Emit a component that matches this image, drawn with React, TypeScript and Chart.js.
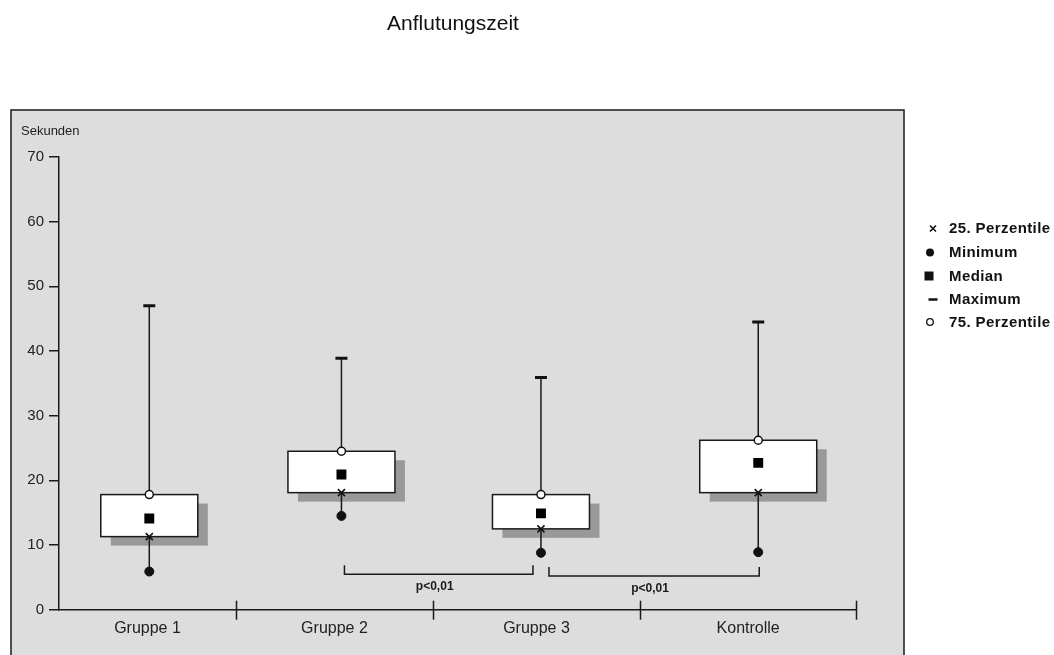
import React, { useEffect, useRef } from 'react';
import { Chart, registerables } from 'chart.js';

Chart.register(...registerables);

// ---------- data ----------
const chartTitle = 'Anflutungszeit';
const yAxisTitle = 'Sekunden';
const categories = ['Gruppe 1', 'Gruppe 2', 'Gruppe 3', 'Kontrolle'];
const minimum = [5.9, 14.5, 8.8, 8.9];
const perc25 = [11.3, 18.1, 12.5, 18.1];
const median = [14.1, 20.9, 14.9, 22.7];
const perc75 = [17.8, 24.5, 17.8, 26.2];
const maximum = [47.0, 38.9, 35.9, 44.5];
const yTicks = [0, 10, 20, 30, 40, 50, 60, 70];
const legendLabels = ['25. Perzentile', 'Minimum', 'Median', 'Maximum', '75. Perzentile'];
const comparisonFrom = [1, 2];
const comparisonTo = [2, 3];
const comparisonLabels = ['p<0,01', 'p<0,01'];
const comparisonLevel = [5.5, 5.2];

// ---------- layout (x-axis positions of the groups and their separators) ----------
const groupX = [0.453, 1.417, 2.418, 3.508];
const groupEdges = [0, 0.888, 1.876, 2.915, 4];
const boxWidthPx = [97, 107, 97, 117];
const bracketStartOffsetPx = [3, 8];
const bracketEndOffsetPx = [-8, 1];

const FONT = '"Liberation Sans", Arial, sans-serif';
const INK = '#1a1a1a';

const pts = (vals: number[]) => vals.map((v, i) => ({ x: groupX[i], y: v }));

const whiskerData: { x: number; y: number | null }[] = [];
groupX.forEach((x, i) => {
  whiskerData.push({ x, y: maximum[i] }, { x, y: perc75[i] }, { x, y: null });
  whiskerData.push({ x, y: perc25[i] }, { x, y: minimum[i] }, { x, y: null });
});

const decorPlugin = {
  id: 'decor',
  beforeDraw(chart: any) {
    const { ctx, width, height } = chart;
    ctx.save();
    ctx.fillStyle = '#ffffff';
    ctx.fillRect(0, 0, width, height);
    ctx.fillStyle = '#dddddd';
    ctx.fillRect(11, 110, 893, 560);
    ctx.strokeStyle = INK;
    ctx.lineWidth = 1.5;
    ctx.strokeRect(11, 110, 893, 560);
    // title
    ctx.fillStyle = '#111';
    ctx.font = `21px ${FONT}`;
    ctx.textAlign = 'center';
    ctx.textBaseline = 'alphabetic';
    ctx.fillText(chartTitle, 453, 30);
    // y axis title
    ctx.font = `13px ${FONT}`;
    ctx.textAlign = 'left';
    ctx.fillStyle = '#222';
    ctx.fillText(yAxisTitle, 21, 135);
    ctx.restore();
  },
  beforeDatasetsDraw(chart: any) {
    const { ctx } = chart;
    const xs = chart.scales.x;
    const ys = chart.scales.y;
    ctx.save();
    groupX.forEach((gx, i) => {
      const cx = xs.getPixelForValue(gx);
      const w = boxWidthPx[i];
      const top = ys.getPixelForValue(perc75[i]);
      const bot = ys.getPixelForValue(perc25[i]);
      ctx.fillStyle = '#999999';
      ctx.fillRect(cx - w / 2 + 10, top + 9, w, bot - top);
    });
    groupX.forEach((gx, i) => {
      const cx = xs.getPixelForValue(gx);
      const w = boxWidthPx[i];
      const top = ys.getPixelForValue(perc75[i]);
      const bot = ys.getPixelForValue(perc25[i]);
      ctx.fillStyle = '#ffffff';
      ctx.fillRect(cx - w / 2, top, w, bot - top);
      ctx.strokeStyle = INK;
      ctx.lineWidth = 1.5;
      ctx.strokeRect(cx - w / 2, top, w, bot - top);
    });
    ctx.restore();
  },
  afterDraw(chart: any) {
    const { ctx } = chart;
    const xs = chart.scales.x;
    const ys = chart.scales.y;
    const axisY = ys.getPixelForValue(0);
    ctx.save();
    ctx.strokeStyle = INK;
    ctx.lineWidth = 1.5;
    // separator ticks on x axis
    groupEdges.slice(1).forEach((e) => {
      const px = Math.round(xs.getPixelForValue(e)) + 0.5;
      ctx.beginPath();
      ctx.moveTo(px, axisY - 9);
      ctx.lineTo(px, axisY + 10);
      ctx.stroke();
    });
    // significance brackets
    comparisonFrom.forEach((f, k) => {
      const t = comparisonTo[k];
      const x1 = xs.getPixelForValue(groupX[f]) + bracketStartOffsetPx[k];
      const x2 = xs.getPixelForValue(groupX[t]) + bracketEndOffsetPx[k];
      const ly = ys.getPixelForValue(comparisonLevel[k]);
      ctx.lineWidth = 1.5;
      ctx.beginPath();
      ctx.moveTo(x1, ly - 9);
      ctx.lineTo(x1, ly);
      ctx.lineTo(x2, ly);
      ctx.lineTo(x2, ly - 9);
      ctx.stroke();
      ctx.fillStyle = '#1a1a1a';
      ctx.font = `bold 12px ${FONT}`;
      ctx.textAlign = 'center';
      ctx.textBaseline = 'middle';
      ctx.fillText(comparisonLabels[k], (x1 + x2) / 2 - 4, ly + 13);
    });
    // legend
    const lx = 949;
    const rows = [228.5, 252.5, 276, 299.5, 322];
    ctx.font = `bold 15px ${FONT}`;
    (ctx as any).letterSpacing = '0.4px';
    ctx.textAlign = 'left';
    ctx.textBaseline = 'middle';
    legendLabels.forEach((lab, i) => {
      const y = rows[i];
      ctx.fillStyle = '#111';
      ctx.strokeStyle = '#111';
      if (i === 0) {
        ctx.lineWidth = 1.6;
        ctx.beginPath();
        ctx.moveTo(930, y - 3);
        ctx.lineTo(936, y + 3);
        ctx.moveTo(936, y - 3);
        ctx.lineTo(930, y + 3);
        ctx.stroke();
      } else if (i === 1) {
        ctx.beginPath();
        ctx.arc(930, y, 4, 0, Math.PI * 2);
        ctx.fill();
      } else if (i === 2) {
        ctx.fillRect(924.5, y - 4.5, 9, 9);
      } else if (i === 3) {
        ctx.lineWidth = 2.5;
        ctx.beginPath();
        ctx.moveTo(928.5, y);
        ctx.lineTo(937.5, y);
        ctx.stroke();
      } else {
        ctx.fillStyle = '#fff';
        ctx.lineWidth = 1.3;
        ctx.beginPath();
        ctx.arc(930, y, 3.3, 0, Math.PI * 2);
        ctx.fill();
        ctx.stroke();
        ctx.fillStyle = '#111';
      }
      ctx.fillText(lab, lx, y + 0.5);
    });
    ctx.restore();
  },
};

export default function App() {
  const ref = useRef<HTMLCanvasElement | null>(null);
  useEffect(() => {
    if (!ref.current) return;
    const chart = new Chart(ref.current, {
      type: 'scatter',
      data: {
        datasets: [
          {
            label: legendLabels[0],
            data: pts(perc25),
            pointStyle: 'crossRot',
            pointRadius: 5,
            borderColor: '#111',
            backgroundColor: '#111',
            borderWidth: 1.6,
          },
          {
            label: legendLabels[1],
            data: pts(minimum),
            pointStyle: 'circle',
            pointRadius: 4.5,
            borderColor: '#111',
            backgroundColor: '#111',
            borderWidth: 1,
          },
          {
            label: legendLabels[2],
            data: pts(median),
            pointStyle: 'rect',
            pointRadius: 7,
            borderColor: '#000',
            backgroundColor: '#000',
            borderWidth: 0,
          },
          {
            label: legendLabels[3],
            data: pts(maximum),
            pointStyle: 'line',
            pointRadius: 6,
            borderColor: '#111',
            backgroundColor: '#111',
            borderWidth: 3,
          },
          {
            label: legendLabels[4],
            data: pts(perc75),
            pointStyle: 'circle',
            pointRadius: 4,
            borderColor: '#111',
            backgroundColor: '#ffffff',
            borderWidth: 1.5,
          },
          {
            label: 'whiskers',
            data: whiskerData as any,
            showLine: true,
            spanGaps: false,
            pointRadius: 0,
            borderColor: INK,
            borderWidth: 1.5,
          },
        ],
      },
      options: {
        animation: false,
        responsive: false,
        events: [],
        layout: { padding: { top: 157, right: 197.7, left: 0, bottom: 0 } },
        plugins: { legend: { display: false }, tooltip: { enabled: false }, title: { display: false } },
        scales: {
          x: {
            type: 'linear',
            min: groupEdges[0],
            max: groupEdges[groupEdges.length - 1],
            grid: { display: false },
            border: { display: true, color: INK, width: 1.5 },
            afterBuildTicks: (scale: any) => {
              scale.ticks = categories.map((_, i) => ({ value: (groupEdges[i] + groupEdges[i + 1]) / 2 }));
            },
            afterFit: (scale: any) => {
              scale.height = 45.3;
            },
            ticks: {
              autoSkip: false,
              maxRotation: 0,
              padding: 1,
              color: '#222',
              font: { family: FONT, size: 16 },
              callback: (_v: any, i: number) => categories[i],
            },
          },
          y: {
            type: 'linear',
            min: yTicks[0],
            max: yTicks[yTicks.length - 1],
            grid: {
              display: true,
              drawOnChartArea: false,
              drawTicks: true,
              tickLength: 10,
              color: INK,
              lineWidth: 1.5,
            },
            border: { display: true, color: INK, width: 1.5 },
            afterBuildTicks: (scale: any) => {
              scale.ticks = yTicks.map((v) => ({ value: v }));
            },
            afterFit: (scale: any) => {
              scale.width = 59;
            },
            ticks: {
              padding: 5,
              color: '#222',
              font: { family: FONT, size: 15 },
              callback: (v: any) => String(v),
            },
          },
        },
      },
      plugins: [decorPlugin],
    } as any);
    return () => chart.destroy();
  }, []);
  return (
    <div style={{ position: 'fixed', left: 0, top: 0, width: 1054, height: 655 }}>
      <canvas ref={ref} width={1054} height={655} style={{ display: 'block' }} />
    </div>
  );
}
